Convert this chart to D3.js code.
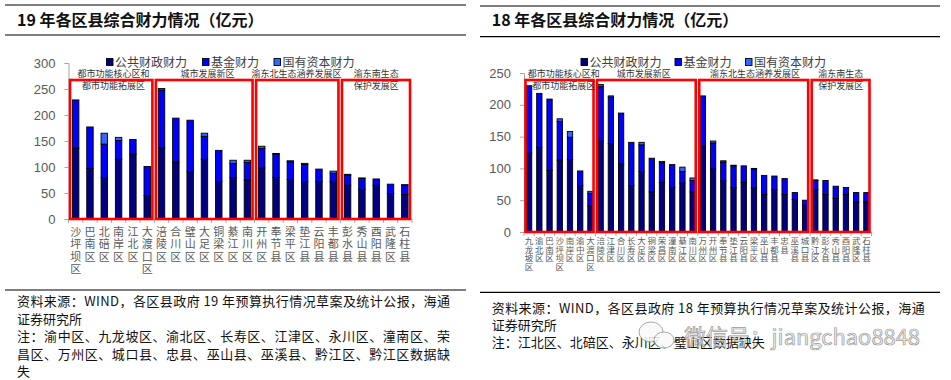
<!DOCTYPE html>
<html><head><meta charset="utf-8">
<script src="https://cdn.jsdelivr.net/npm/d3@7"></script>
<style>body{margin:0;background:#fff}svg{display:block}</style>
</head><body><svg id="c" width="951" height="380"></svg>
<script>
const seriesNames = ["公共财政财力","基金财力","国有资本财力"];
const seriesKeys = ["pub","fund","state"];
const seriesColors = ["#000080","#0000FF","#3366FF"];
const groupNames = [["都市功能核心区和","都市功能拓展区"],["城市发展新区"],["渝东北生态涵养发展区"],["渝东南生态","保护发展区"]];

const cats19 = ["沙坪坝区","巴南区","北碚区","南岸区","江北区","大渡口区","涪陵区","合川区","璧山区","大足区","铜梁区","綦江区","南川区","开州区","奉节县","梁平区","垫江县","云阳县","丰都县","彭水县","秀山县","酉阳县","武隆区","石柱县"];
const public19 = [136,97,80,115,125,45,137,109,91,115,72,80,75,98,80,76,72,72,72,65,57,65,49,47];
const fund19   = [93,80,64,36,28,56,111,85,99,44,60,27,34,38,45,34,33,24,16,19,21,12,18,18];
const state19  = [0,0,21,6,0,0,3,0,0,6,0,6,4,4,1,2,2,0,4,2,1,0,0,1];
const groupSizes19 = [6,7,6,5];
const yTicks19 = [0,50,100,150,200,250,300];

const cats18 = ["九龙坡区","渝北区","巴南区","沙坪坝区","南岸区","渝中区","大渡口区","涪陵区","江津区","合川区","长寿区","大足区","铜梁区","荣昌区","潼南区","綦江区","南川区","万州区","开州区","奉节县","垫江县","云阳县","梁平区","巫山县","丰都县","忠县","巫溪县","城口县","黔江区","彭水县","秀山县","酉阳县","武隆区","石柱县"];
const public18 = [124,133,97,113,114,73,41,143,139,107,73,95,63,78,70,77,63,135,99,80,70,78,69,59,67,59,51,42,67,59,53,59,47,47];
const fund18   = [106,85,112,61,35,23,20,86,73,80,68,42,53,31,36,18,18,79,41,30,34,26,30,30,21,25,11,8,14,22,19,11,15,15];
const state18  = [0,0,0,4,9,0,3,3,2,0,0,4,0,2,0,7,4,0,3,2,1,0,1,0,0,0,0,0,1,0,0,0,0,0];
const groupSizes18 = [7,10,11,6];
const yTicks18 = [0,50,100,150,200,250];

const title19 = "19 年各区县综合财力情况（亿元）";
const title18 = "18 年各区县综合财力情况（亿元）";
const notes19 = ["资料来源：WIND，各区县政府 19 年预算执行情况草案及统计公报，海通","证券研究所","注：渝中区、九龙坡区、渝北区、长寿区、江津区、永川区、潼南区、荣","昌区、万州区、城口县、忠县、巫山县、巫溪县、黔江区、黔江区数据缺","失"];
const notes18 = ["资料来源：WIND，各区县政府 18 年预算执行情况草案及统计公报，海通","证券研究所","注：江北区、北碚区、永川区、璧山区数据缺失"];

const svg = d3.select("#c");
const CJK = "'Noto Sans CJK SC','Noto Sans',sans-serif";
const LAT = "'Liberation Sans',Arial,sans-serif";

function panel(p) {
  const g = svg.append("g");
  g.append("line").attr("x1",p.left).attr("x2",p.right).attr("y1",p.topLine).attr("y2",p.topLine).attr("stroke","#000").attr("stroke-width",1.2);
  g.append("line").attr("x1",p.left).attr("x2",p.right).attr("y1",p.titleLine).attr("y2",p.titleLine).attr("stroke","#000").attr("stroke-width",1.2);
  g.append("line").attr("x1",p.left).attr("x2",p.right).attr("y1",p.noteLine).attr("y2",p.noteLine).attr("stroke","#000").attr("stroke-width",1.2);
  g.append("text").attr("x",p.titleX).attr("y",26).text(p.title)
    .attr("font-family",CJK).attr("font-weight","bold").attr("font-size",16).attr("fill","#111");

  p.notes.forEach((t,i)=>{
    const tx = g.append("text").attr("x",p.titleX).attr("y",p.noteY0 + i*p.noteGap).text(t)
      .attr("font-family",CJK).attr("font-size",13).attr("fill","#111");
    if (p.noteFull[i]) tx.attr("textLength",p.noteFull[i]).attr("lengthAdjust","spacing");
  });

  const rows = p.cats.map((c,i)=>({cat:c,pub:p.pub[i],fund:p.fund[i],state:p.state[i]}));
  const stack = d3.stack().keys(seriesKeys)(rows);
  const x = d3.scaleBand().domain(p.cats).range(p.xRange).paddingInner(p.pad).paddingOuter(p.pad/2);
  const y = d3.scaleLinear().domain([0,d3.max(p.yTicks)]).range(p.yRange);

  const ya = g.append("g").attr("transform",`translate(${p.xRange[0]},0)`)
    .call(d3.axisLeft(y).tickValues(p.yTicks).tickSize(4).tickPadding(p.tickPad));
  ya.select(".domain").attr("stroke","#a6a6a6");
  ya.selectAll(".tick line").attr("stroke","#a6a6a6");
  ya.selectAll(".tick text").attr("font-family",LAT).attr("font-size",p.tickFont).attr("fill","#595959");

  g.append("line").attr("x1",p.xRange[0]).attr("x2",p.xRange[1]).attr("y1",y(0)).attr("y2",y(0)).attr("stroke","#a6a6a6");
  const step = x.step();
  d3.range(p.cats.length+1).forEach(i=>{
    const xx = p.xRange[0] + i*step;
    g.append("line").attr("x1",xx).attr("x2",xx).attr("y1",y(0)).attr("y2",y(0)+4).attr("stroke","#a6a6a6");
  });

  stack.forEach((s,si)=>{
    g.append("g").selectAll("rect").data(s.filter(d=>d[1]-d[0]>0)).join("rect")
      .attr("x",d=>x(d.data.cat)).attr("width",x.bandwidth())
      .attr("y",d=>y(d[1])).attr("height",d=>y(d[0])-y(d[1]))
      .attr("fill",seriesColors[si]).attr("stroke","#000").attr("stroke-width",0.9);
  });

  p.cats.forEach(c=>{
    const cx = x(c) + x.bandwidth()/2;
    Array.from(c).forEach((ch,k)=>{
      g.append("text").attr("x",cx).attr("y",p.labY0 + k*p.labGap).text(ch)
        .attr("text-anchor","middle").attr("font-family",CJK).attr("font-size",p.labFont).attr("fill","#595959");
    });
  });

  let start = 0;
  p.groupSizes.forEach((n,gi)=>{
    const x0 = p.xRange[0] + start*step, x1 = p.xRange[0] + (start+n)*step;
    g.append("rect").attr("x",x0+1.5).attr("y",80).attr("width",x1-x0-3.5).attr("height",y(0)-80)
      .attr("fill","none").attr("stroke","#ff0000").attr("stroke-width",2.6);
    const cx = (x0+x1)/2 + p.grpShift[gi];
    groupNames[gi].forEach((t,k)=>{
      g.append("text").attr("x",cx).attr("y",76.5 + k*12.5).text(t).attr("text-anchor","middle")
        .attr("font-family",CJK).attr("font-size",9).attr("fill","#333");
    });
    start += n;
  });

  seriesNames.forEach((n,i)=>{
    g.append("rect").attr("x",p.legX[i]).attr("y",58.5).attr("width",6.5).attr("height",7)
      .attr("fill",seriesColors[i]).attr("stroke","#000").attr("stroke-width",0.9);
    g.append("text").attr("x",p.legX[i]+8.5).attr("y",66.5).text(n)
      .attr("font-family",CJK).attr("font-size",12).attr("fill","#404040");
  });
}

panel({left:5,right:466,topLine:5,titleLine:35,noteLine:290,titleX:17,title:title19,
  notes:notes19,noteY0:306,noteGap:17.6,noteFull:[433,null,433,433,null],
  cats:cats19,pub:public19,fund:fund19,state:state19,groupSizes:groupSizes19,yTicks:yTicks19,
  xRange:[68.5,412],yRange:[219,63],pad:0.55,tickPad:9,tickFont:13,
  labY0:236,labGap:12.4,labFont:11,grpShift:[2,3,-1,0],legX:[106.5,202.5,274]});

panel({left:480,right:940,topLine:6,titleLine:36.7,noteLine:292.3,titleX:491.7,title:title18,
  notes:notes18,noteY0:313,noteGap:17,noteFull:[433,null,null],
  cats:cats18,pub:public18,fund:fund18,state:state18,groupSizes:groupSizes18,yTicks:yTicks18,
  xRange:[524,871.5],yRange:[232,73],pad:0.48,tickPad:9,tickFont:13,
  labY0:244,labGap:8.55,labFont:8.5,grpShift:[4,-3,1,0],legX:[581,675,745.5]});

const wm = svg.append("g").attr("opacity",0.85);
wm.append("ellipse").attr("cx",651).attr("cy",332).attr("rx",12).attr("ry",10).attr("fill","#fafafa").attr("stroke","#999").attr("stroke-width",1);
wm.append("ellipse").attr("cx",664).attr("cy",340).attr("rx",10).attr("ry",8).attr("fill","#fafafa").attr("stroke","#999").attr("stroke-width",1);
wm.append("text").attr("x",684).attr("y",345).text("微信号：jiangchao8848")
  .attr("font-family",CJK).attr("font-size",22).attr("fill","#eeeeee").attr("stroke","#8a8a8a").attr("stroke-width",0.7)
  .attr("textLength",236).attr("lengthAdjust","spacingAndGlyphs");
</script></body></html>
